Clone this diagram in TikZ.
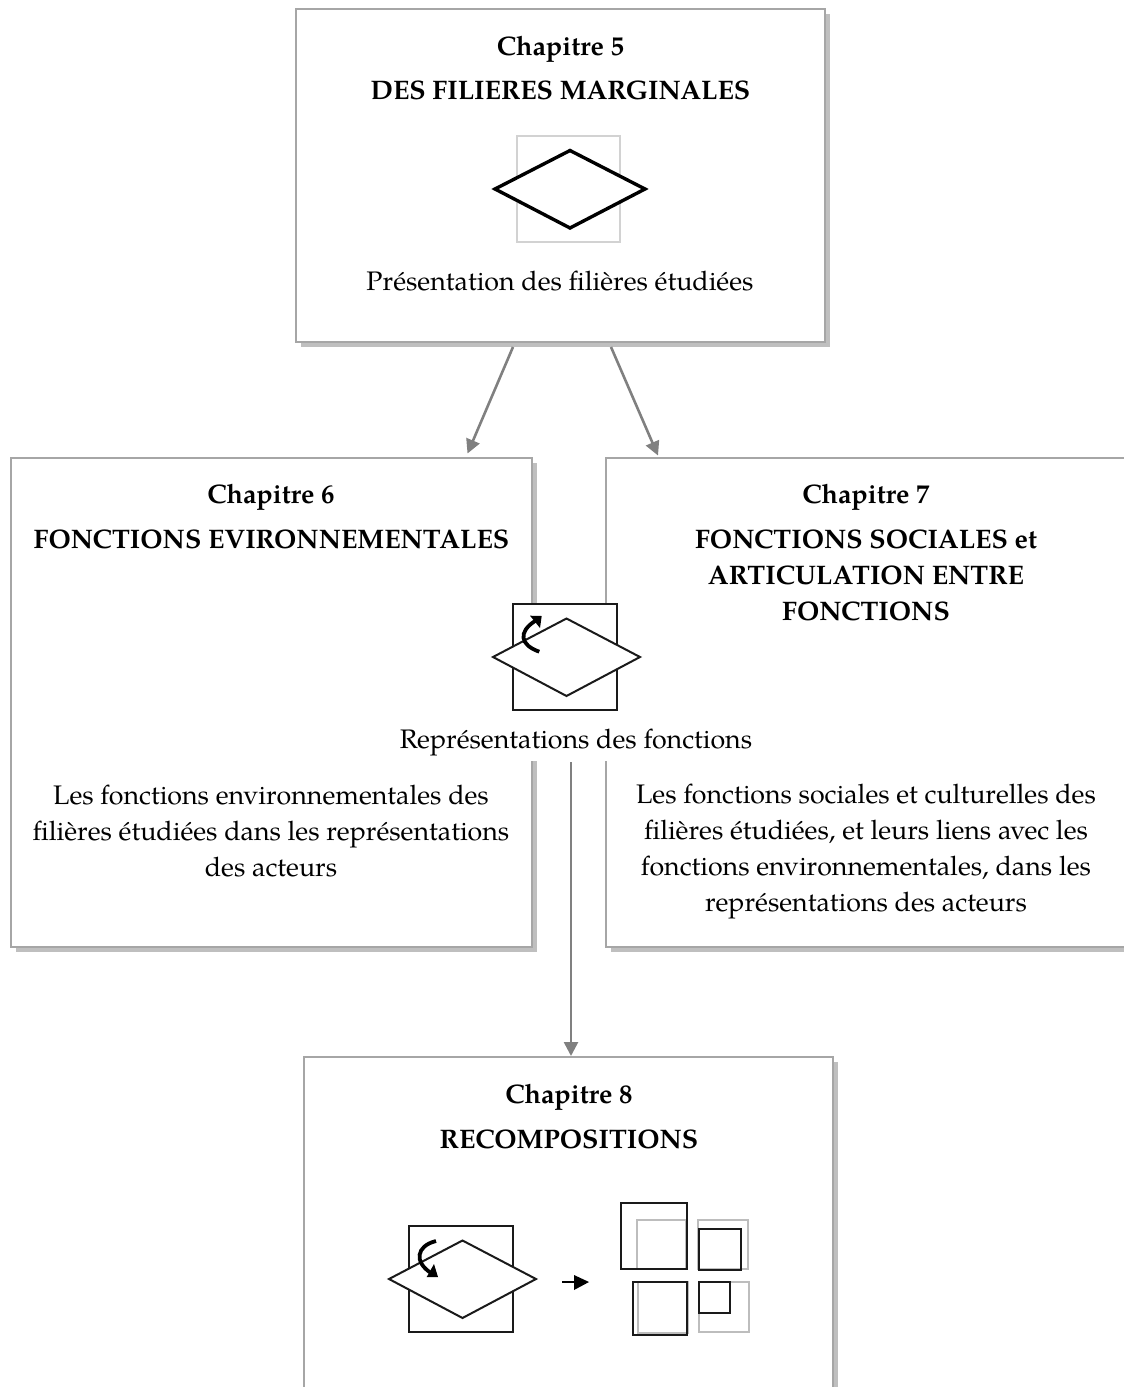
\documentclass[tikz,border=0pt]{standalone}
\usepackage{fontspec}
\setmainfont{TeX Gyre Pagella}
\usetikzlibrary{arrows.meta,shadows,calc}
\definecolor{boxline}{HTML}{A6A6A6}
\definecolor{shadowc}{HTML}{BFBFBF}
\definecolor{conn}{HTML}{808080}
\definecolor{iconlight}{HTML}{D2D2D2}
\definecolor{icongray}{HTML}{BDBDBD}
\definecolor{iconblack}{HTML}{1A1A1A}
\tikzset{
  x=1pt,y=-1pt,
  chapbox/.style={draw=boxline,line width=1.8pt,fill=white,inner sep=0pt,
    general shadow={shadow xshift=5pt,shadow yshift=-5pt,fill=shadowc,opacity=1}},
  txt/.style={inner sep=0pt,align=center,font=\fontsize{26.8pt}{36pt}\selectfont,text=black},
  hd/.style={txt,font=\fontsize{26.8pt}{36pt}\selectfont\bfseries},
  connector/.style={draw=conn,line width=2.6pt,-{Triangle[length=14pt,width=14pt]}},
  blk/.style={draw=iconblack,line width=2pt},
  gry/.style={draw=icongray,line width=2pt},
  diam/.style={draw=iconblack,line width=2pt,fill=white,line join=miter},
  curv/.style={draw=black,line width=3.8pt,line cap=butt},
}
\begin{document}
\begin{tikzpicture}
\useasboundingbox (0,0) rectangle (1124,1387);
\begin{scope}
\clip (0,0) rectangle (1124,1387);
\node[chapbox,minimum width=529pt,minimum height=333pt] (ch5) at (560.5,175.5) {};
\node[chapbox,minimum width=521pt,minimum height=489pt] (ch6) at (271.5,702.5) {};
\node[chapbox,minimum width=540pt,minimum height=489pt] (ch7) at (876,702.5) {};
\node[chapbox,minimum width=529pt,minimum height=360pt] (ch8) at (568.5,1237) {};
\fill[white] (400,710) rectangle (752,761);
\end{scope}
\coordinate (a1) at (513,347);
\coordinate (b1) at (467.5,453.5);
\coordinate (a2) at (611,347);
\coordinate (b2) at (658,455.5);
\coordinate (a3) at (571,762);
\coordinate (b3) at (571,1056);
\draw[connector] (a1) -- (b1);
\draw[connector] (a2) -- (b2);
\draw[connector] (a3) -- (b3);
% chapter 5
\node[hd] (t5a) at (560.5,49) {Chapitre 5};
\node[hd] (t5b) at (560.5,90) {DES FILIERES MARGINALES};
\draw[draw=iconlight,line width=2pt] (517,136) rectangle (620,242);
\draw[draw=black,line width=3.4pt,fill=white,line join=miter] (495,189) -- (570,150.5) -- (645,189) -- (570,228) -- cycle;
\node[txt] (t5c) at (560,281) {Présentation des filières étudiées};
% chapter 6
\node[hd] (t6a) at (271,497) {Chapitre 6};
\node[hd] (t6b) at (271.5,539) {FONCTIONS EVIRONNEMENTALES};
\node[txt] (t6c) at (271,831) {Les fonctions environnementales des\\filières étudiées dans les représentations\\des acteurs};
% chapter 7
\node[hd] (t7a) at (866,497) {Chapitre 7};
\node[hd] (t7b) at (866,575) {FONCTIONS SOCIALES et\\ARTICULATION ENTRE\\FONCTIONS};
\node[txt] (t7c) at (866,851) {Les fonctions sociales et culturelles des\\filières étudiées, et leurs liens avec les\\fonctions environnementales, dans les\\représentations des acteurs};
% central icon
\draw[blk,fill=white] (513,604) rectangle (617,710);
\draw[diam] (493,657) -- (566.5,618.5) -- (640,657) -- (566.5,696) -- cycle;
\draw[curv] (539.3,651.7) .. controls (520,645) and (518,632) .. (535,621);
\fill[black] (541.7,616) -- (530,615.7) -- (540,628) -- cycle;
\node[txt] (t0) at (576,742) {Représentations des fonctions};
% chapter 8
\node[hd] (t8a) at (569,1097) {Chapitre 8};
\node[hd] (t8b) at (569,1139) {RECOMPOSITIONS};
\draw[blk] (409,1226) rectangle (513,1332);
\draw[diam] (389,1279) -- (462.5,1240.5) -- (536,1279) -- (462.5,1318) -- cycle;
\draw[curv] (436,1241) .. controls (416,1246) and (414,1262) .. (431,1273);
\fill[black] (438,1277) -- (426.7,1277) -- (434,1264) -- cycle;
\draw[draw=black,line width=2.4pt] (562,1282) -- (575,1282);
\fill[black] (589,1282) -- (574,1275) -- (574,1290) -- cycle;
\draw[gry] (637,1220) rectangle (686,1269);
\draw[blk] (621,1203) rectangle (687,1269);
\draw[gry] (698,1220) rectangle (748,1269);
\draw[blk] (699,1229) rectangle (741,1270);
\draw[gry] (638,1282) rectangle (687.5,1333);
\draw[blk] (633,1282) rectangle (687,1335);
\draw[gry] (699,1282) rectangle (749,1332);
\draw[blk] (699,1282) rectangle (730,1313);
\end{tikzpicture}
\end{document}
